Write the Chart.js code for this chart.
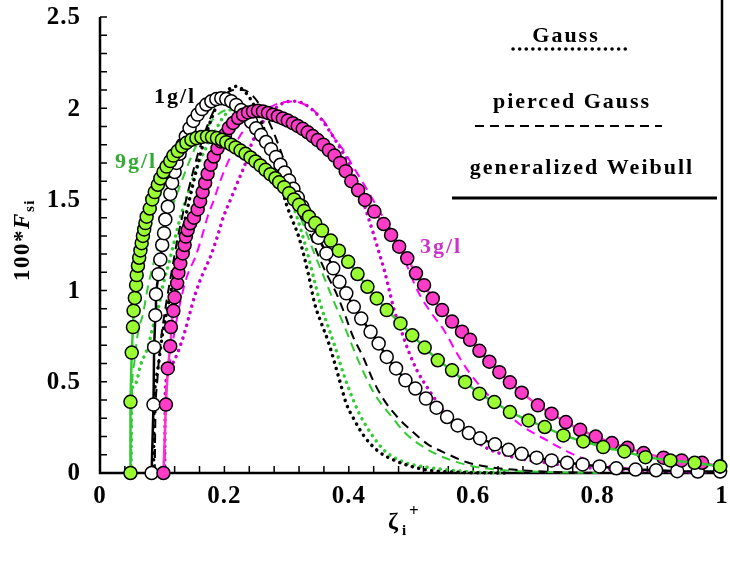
<!DOCTYPE html>
<html>
<head>
<meta charset="utf-8">
<script src="https://cdn.jsdelivr.net/npm/chart.js@4.4.0/dist/chart.umd.min.js"></script>
<style>
  html, body { margin: 0; padding: 0; background: #fff; }
  canvas { display: block; }
</style>
</head>
<body>
<canvas id="sizeChart" width="730" height="569"></canvas>
<script>
// ---- measured distributions (markers + generalized Weibull line) ----
const x9 = [0.049,0.049,0.051,0.053,0.054,0.056,0.058,0.059,0.061,0.063,0.065,0.067,0.069,0.071,0.073,0.075,0.080,0.084,0.088,0.093,0.097,0.102,0.107,0.113,0.118,0.125,0.132,0.139,0.147,0.155,0.163,0.172,0.180,0.188,0.196,0.203,0.211,0.218,0.226,0.234,0.242,0.250,0.258,0.266,0.274,0.282,0.288,0.296,0.304,0.312,0.320,0.328,0.336,0.346,0.357,0.371,0.384,0.399,0.414,0.430,0.445,0.461,0.483,0.502,0.522,0.543,0.566,0.587,0.610,0.634,0.659,0.689,0.715,0.745,0.777,0.809,0.843,0.877,0.917,0.956,0.997];
const y9 = [0,0.39,0.66,0.80,0.89,0.96,1.03,1.085,1.136,1.18,1.22,1.26,1.30,1.335,1.37,1.405,1.45,1.50,1.54,1.58,1.615,1.65,1.68,1.71,1.74,1.765,1.79,1.81,1.827,1.836,1.842,1.845,1.842,1.836,1.827,1.814,1.80,1.785,1.768,1.75,1.73,1.708,1.686,1.662,1.638,1.616,1.594,1.567,1.534,1.50,1.47,1.437,1.405,1.37,1.329,1.274,1.219,1.158,1.091,1.021,0.957,0.893,0.820,0.755,0.688,0.618,0.563,0.499,0.435,0.389,0.334,0.288,0.252,0.206,0.173,0.142,0.118,0.087,0.069,0.056,0.036];

const x1 = [0.083,0.086,0.087,0.089,0.090,0.094,0.097,0.100,0.103,0.105,0.109,0.113,0.116,0.120,0.123,0.128,0.133,0.138,0.144,0.150,0.157,0.164,0.171,0.179,0.187,0.195,0.203,0.211,0.219,0.227,0.235,0.243,0.251,0.259,0.267,0.275,0.283,0.290,0.297,0.304,0.311,0.318,0.325,0.332,0.340,0.351,0.364,0.375,0.385,0.396,0.408,0.420,0.435,0.448,0.461,0.476,0.491,0.507,0.524,0.541,0.558,0.575,0.593,0.611,0.635,0.657,0.678,0.702,0.726,0.751,0.776,0.803,0.830,0.861,0.894,0.928,0.961,0.997];
const y1 = [0,0.375,0.69,0.865,0.98,1.09,1.17,1.25,1.315,1.39,1.46,1.53,1.59,1.65,1.70,1.75,1.80,1.845,1.89,1.93,1.965,1.995,2.02,2.038,2.05,2.055,2.05,2.038,2.018,1.99,1.96,1.925,1.89,1.853,1.815,1.775,1.733,1.69,1.648,1.603,1.558,1.51,1.462,1.415,1.36,1.29,1.204,1.122,1.048,0.985,0.911,0.847,0.774,0.71,0.636,0.573,0.508,0.463,0.408,0.358,0.307,0.261,0.219,0.19,0.157,0.127,0.105,0.084,0.069,0.056,0.047,0.036,0.026,0.019,0.015,0.01,0.008,0.008];

const x3 = [0.102,0.106,0.109,0.113,0.114,0.118,0.120,0.124,0.126,0.129,0.133,0.136,0.138,0.141,0.145,0.151,0.157,0.161,0.165,0.169,0.173,0.178,0.183,0.189,0.194,0.201,0.207,0.214,0.222,0.230,0.238,0.246,0.254,0.262,0.270,0.278,0.286,0.294,0.302,0.310,0.318,0.326,0.334,0.342,0.350,0.359,0.368,0.377,0.386,0.395,0.404,0.415,0.426,0.441,0.456,0.468,0.481,0.494,0.508,0.521,0.535,0.550,0.566,0.582,0.595,0.610,0.626,0.642,0.659,0.678,0.704,0.726,0.749,0.772,0.797,0.823,0.848,0.874,0.906,0.935,0.968,0.997];
const y3 = [0,0.375,0.573,0.695,0.80,0.889,0.963,1.04,1.098,1.149,1.204,1.25,1.296,1.332,1.369,1.40,1.445,1.49,1.54,1.59,1.64,1.69,1.735,1.78,1.818,1.854,1.891,1.919,1.946,1.964,1.977,1.982,1.986,1.982,1.974,1.964,1.955,1.944,1.932,1.918,1.903,1.887,1.868,1.847,1.825,1.80,1.77,1.74,1.70,1.655,1.60,1.55,1.497,1.433,1.365,1.305,1.241,1.177,1.095,1.03,0.957,0.893,0.83,0.775,0.73,0.67,0.61,0.553,0.497,0.44,0.371,0.325,0.279,0.237,0.20,0.164,0.138,0.109,0.084,0.069,0.056,0.036];

// ---- Gauss fits (dotted) ----
const gx1 = [0.086,0.087,0.092,0.100,0.110,0.120,0.130,0.140,0.150,0.160,0.170,0.180,0.190,0.200,0.210,0.220,0.230,0.240,0.250,0.260,0.270,0.280,0.290,0.300,0.310,0.320,0.335,0.345,0.356,0.367,0.385,0.396,0.409,0.425,0.447,0.473,0.52,0.57,0.65];
const gy1 = [0,0.35,0.55,0.75,0.93,1.1,1.28,1.44,1.59,1.73,1.85,1.95,2.03,2.08,2.11,2.12,2.10,2.06,2.0,1.92,1.82,1.71,1.59,1.47,1.38,1.29,1.09,0.93,0.82,0.72,0.51,0.38,0.29,0.2,0.12,0.07,0.02,0.005,0];
const gx9 = [0.050,0.051,0.057,0.065,0.077,0.085,0.093,0.102,0.112,0.120,0.128,0.138,0.149,0.159,0.173,0.186,0.199,0.213,0.225,0.240,0.260,0.280,0.300,0.315,0.330,0.345,0.354,0.367,0.378,0.388,0.401,0.417,0.436,0.457,0.489,0.526,0.58,0.65];
const gy9 = [0,0.45,0.49,0.59,0.69,0.80,0.893,1.04,1.168,1.277,1.387,1.497,1.607,1.699,1.80,1.882,1.955,2.0,2.01,1.98,1.88,1.72,1.56,1.42,1.25,1.05,0.93,0.80,0.69,0.58,0.453,0.325,0.215,0.124,0.059,0.032,0.01,0];
const gx3 = [0.104,0.105,0.110,0.117,0.125,0.136,0.144,0.154,0.165,0.178,0.189,0.199,0.210,0.222,0.234,0.242,0.255,0.268,0.284,0.300,0.315,0.330,0.345,0.358,0.370,0.383,0.395,0.410,0.420,0.431,0.441,0.449,0.457,0.465,0.473,0.484,0.497,0.51,0.526,0.548,0.57,0.595,0.62,0.65,0.69,0.73,0.78,0.85,0.95];
const gy3 = [0,0.45,0.55,0.6,0.66,0.77,0.87,0.99,1.09,1.19,1.30,1.41,1.5,1.6,1.70,1.79,1.882,1.955,2.005,2.035,2.038,2.02,1.98,1.93,1.87,1.80,1.73,1.62,1.52,1.405,1.296,1.204,1.113,1.003,0.893,0.783,0.66,0.56,0.47,0.36,0.27,0.2,0.14,0.1,0.07,0.05,0.03,0.015,0.005];

// ---- pierced Gauss fits (dashed) ----
const px1 = [0.088,0.089,0.092,0.097,0.105,0.115,0.125,0.140,0.155,0.170,0.185,0.200,0.215,0.230,0.245,0.260,0.275,0.290,0.303,0.314,0.330,0.350,0.364,0.380,0.393,0.407,0.423,0.439,0.457,0.478,0.500,0.526,0.558,0.590,0.627,0.70,0.80];
const py1 = [0,0.3,0.5,0.7,0.9,1.1,1.29,1.52,1.72,1.88,2.0,2.07,2.1,2.1,2.07,2.0,1.9,1.77,1.64,1.53,1.38,1.2,1.094,0.985,0.875,0.746,0.636,0.508,0.398,0.307,0.234,0.16,0.105,0.059,0.032,0.01,0];
const px9 = [0.050,0.051,0.055,0.061,0.069,0.077,0.090,0.106,0.122,0.138,0.154,0.170,0.186,0.205,0.225,0.245,0.265,0.285,0.305,0.325,0.345,0.362,0.375,0.391,0.404,0.420,0.441,0.465,0.492,0.521,0.553,0.595,0.65,0.72,0.80];
const py9 = [0,0.4,0.6,0.77,0.87,1.02,1.2,1.37,1.515,1.66,1.79,1.882,1.955,1.99,1.99,1.95,1.86,1.73,1.56,1.38,1.2,1.058,0.948,0.82,0.71,0.58,0.435,0.325,0.215,0.14,0.085,0.04,0.015,0.005,0];
const px3 = [0.104,0.105,0.110,0.120,0.130,0.140,0.154,0.165,0.173,0.183,0.194,0.205,0.215,0.223,0.234,0.245,0.260,0.276,0.290,0.308,0.330,0.348,0.362,0.375,0.391,0.407,0.430,0.452,0.473,0.492,0.510,0.532,0.553,0.574,0.595,0.622,0.649,0.681,0.718,0.75,0.78,0.81,0.84,0.9,1.0];
const py3 = [0,0.35,0.55,0.78,0.95,1.08,1.19,1.31,1.405,1.497,1.607,1.699,1.772,1.836,1.891,1.937,1.974,2.01,2.029,2.037,2.019,1.974,1.919,1.845,1.772,1.68,1.55,1.42,1.3,1.15,1.003,0.88,0.783,0.655,0.545,0.435,0.343,0.252,0.18,0.12,0.075,0.045,0.028,0.01,0.003];

// ---- axes ----
const xTickValues = [0, 0.2, 0.4, 0.6, 0.8, 1];
const xTickLabels = ['0', '0.2', '0.4', '0.6', '0.8', '1'];
const yTickValues = [0, 0.5, 1, 1.5, 2, 2.5];
const yTickLabels = ['0', '0.5', '1', '1.5', '2', '2.5'];
const xMinorTicks = [0.04,0.08,0.12,0.16,0.2,0.24,0.28,0.32,0.36,0.4,0.44,0.48,0.52,0.56,0.6,0.64,0.68,0.72,0.76,0.8,0.84,0.88,0.92,0.96];
const yMinorTicks = [0.1,0.2,0.3,0.4,0.5,0.6,0.7,0.8,0.9,1,1.1,1.2,1.3,1.4,1.5,1.6,1.7,1.8,1.9,2,2.1,2.2,2.3,2.4,2.5];

const SERIF = '"Liberation Serif", "Times New Roman", serif';
const GREEN = '#33CC33';

function pts(xs, ys) {
  return xs.map((x, i) => ({ x: x, y: ys[i] }));
}

function markerSet(label, xs, ys, line, fill) {
  return {
    label: label,
    data: pts(xs, ys),
    showLine: true,
    borderColor: line,
    borderWidth: 2.5,
    tension: 0,
    pointRadius: 6.5,
    pointBackgroundColor: fill,
    pointBorderColor: '#000',
    pointBorderWidth: 1.5,
    clip: false
  };
}

function dotted(xs, ys, color) {
  return {
    data: pts(xs, ys),
    showLine: true,
    pointRadius: 0,
    borderColor: color,
    borderWidth: 3.5,
    borderDash: [0.1, 6.5],
    borderCapStyle: 'round',
    cubicInterpolationMode: 'monotone',
    clip: false
  };
}

function dashed(xs, ys, color) {
  return {
    data: pts(xs, ys),
    showLine: true,
    pointRadius: 0,
    borderColor: color,
    borderWidth: 2,
    borderDash: [9, 6],
    cubicInterpolationMode: 'monotone',
    clip: false
  };
}

// axis lines, inward ticks, tick labels, titles, curve labels and the line-style key
const decor = {
  id: 'decor',
  beforeDatasetsDraw(chart) {
    const { ctx, chartArea: a, scales: { x, y } } = chart;
    ctx.save();
    ctx.strokeStyle = '#000';
    ctx.lineWidth = 2.5;
    ctx.beginPath();
    ctx.moveTo(a.left, a.top);
    ctx.lineTo(a.left, a.bottom);
    ctx.lineTo(a.right, a.bottom);
    ctx.moveTo(a.right, 0);
    ctx.lineTo(a.right, a.bottom);
    ctx.stroke();
    ctx.lineWidth = 1.5;
    ctx.beginPath();
    xMinorTicks.forEach(v => {
      const p = x.getPixelForValue(v);
      ctx.moveTo(p, a.bottom);
      ctx.lineTo(p, a.bottom - 7);
    });
    yMinorTicks.forEach(v => {
      const p = y.getPixelForValue(v);
      ctx.moveTo(a.left, p);
      ctx.lineTo(a.left + 7, p);
    });
    ctx.stroke();

    // tick labels
    ctx.fillStyle = '#000';
    ctx.font = 'bold 25px ' + SERIF;
    ctx.letterSpacing = '1px';
    ctx.textBaseline = 'middle';
    ctx.textAlign = 'center';
    xTickValues.forEach((v, i) => {
      ctx.fillText(xTickLabels[i], x.getPixelForValue(v), a.bottom + 24);
    });
    ctx.textAlign = 'right';
    yTickValues.forEach((v, i) => {
      ctx.fillText(yTickLabels[i], a.left - 19, y.getPixelForValue(v) + 1);
    });
    ctx.restore();
  },
  afterDatasetsDraw(chart) {
    const { ctx } = chart;
    ctx.save();
    ctx.letterSpacing = '2px';
    ctx.textAlign = 'center';
    ctx.textBaseline = 'middle';
    ctx.font = 'bold 22px ' + SERIF;

    // curve labels
    ctx.fillStyle = '#000';
    ctx.fillText('1g/l', 175, 97);
    ctx.fillStyle = '#33AA33';
    ctx.fillText('9g/l', 136, 162);
    ctx.fillStyle = '#CC33CC';
    ctx.fillText('3g/l', 441, 247);

    // key
    ctx.fillStyle = '#000';
    ctx.textBaseline = 'alphabetic';
    ctx.fillText('Gauss', 566, 42);
    ctx.fillText('pierced Gauss', 572, 108);
    ctx.fillText('generalized Weibull', 582, 174);

    ctx.strokeStyle = '#000';
    ctx.lineWidth = 3.5;
    ctx.lineCap = 'round';
    ctx.setLineDash([0.1, 6.5]);
    ctx.beginPath(); ctx.moveTo(513, 49); ctx.lineTo(627, 49); ctx.stroke();
    ctx.lineCap = 'butt';
    ctx.lineWidth = 2;
    ctx.setLineDash([9, 6]);
    ctx.beginPath(); ctx.moveTo(475, 126); ctx.lineTo(662, 126); ctx.stroke();
    ctx.lineWidth = 3;
    ctx.setLineDash([]);
    ctx.beginPath(); ctx.moveTo(452, 198); ctx.lineTo(717, 198); ctx.stroke();

    // x title: zeta_i^+
    ctx.letterSpacing = '0px';
    ctx.textAlign = 'left';
    ctx.font = 'bold 24px ' + SERIF;
    ctx.fillText('\u03B6', 388, 529);
    ctx.font = 'bold 15px ' + SERIF;
    ctx.fillText('i', 402, 535);
    ctx.font = 'bold 17px ' + SERIF;
    ctx.fillText('+', 409, 516);

    // y title: 100*F_si (rotated)
    ctx.letterSpacing = '1.5px';
    ctx.translate(29, 240);
    ctx.rotate(-Math.PI / 2);
    ctx.font = 'bold 23px ' + SERIF;
    const w1 = ctx.measureText('100*').width;
    ctx.font = 'italic bold 23px ' + SERIF;
    const w2 = ctx.measureText('F').width;
    ctx.font = 'bold 15px ' + SERIF;
    const w3 = ctx.measureText('si').width;
    let cx = -(w1 + w2 + w3) / 2;
    ctx.font = 'bold 23px ' + SERIF;
    ctx.fillText('100*', cx, 0);
    cx += w1;
    ctx.font = 'italic bold 23px ' + SERIF;
    ctx.fillText('F', cx, 0);
    cx += w2;
    ctx.font = 'bold 15px ' + SERIF;
    ctx.fillText('si', cx, 5);
    ctx.restore();
  }
};

new Chart(document.getElementById('sizeChart'), {
  type: 'scatter',
  data: {
    datasets: [
      markerSet('9g/l', x9, y9, GREEN, '#99FF33'),
      markerSet('3g/l', x3, y3, '#FF33CC', '#FF3CC8'),
      markerSet('1g/l', x1, y1, '#000000', '#FFFFFF'),
      dotted(gx1, gy1, '#000000'),
      dashed(px1, py1, '#000000'),
      dotted(gx9, gy9, GREEN),
      dashed(px9, py9, GREEN),
      dotted(gx3, gy3, '#CC00CC'),
      dashed(px3, py3, '#FF00FF')
    ]
  },
  options: {
    responsive: false,
    animation: false,
    devicePixelRatio: 1,
    layout: { padding: { top: 17, right: 3, left: 0, bottom: 0 } },
    plugins: { legend: { display: false }, tooltip: { enabled: false } },
    scales: {
      x: {
        type: 'linear',
        min: 0,
        max: 1,
        grid: { display: false, drawTicks: false },
        border: { display: false },
        ticks: { display: false, stepSize: 0.2 },
        afterFit: s => { s.height = 96; }
      },
      y: {
        min: 0,
        max: 2.5,
        grid: { display: false, drawTicks: false },
        border: { display: false },
        ticks: { display: false, stepSize: 0.5 },
        afterFit: s => { s.width = 100; }
      }
    }
  },
  plugins: [decor]
});
</script>
</body>
</html>
